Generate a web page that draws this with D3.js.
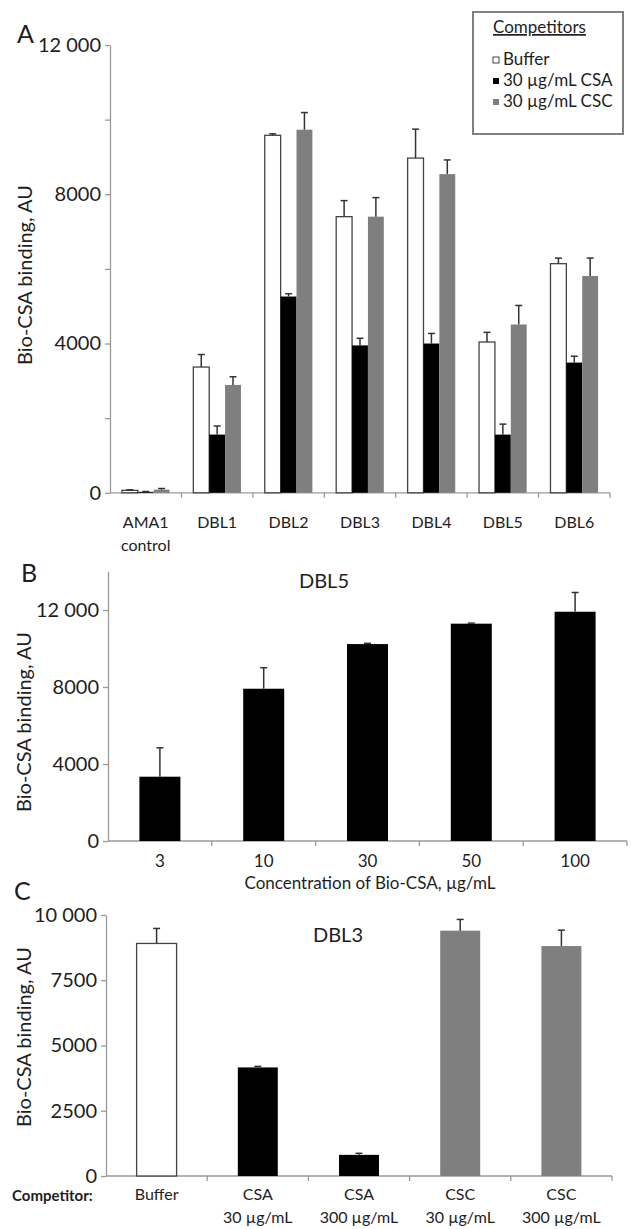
<!DOCTYPE html>
<html>
<head>
<meta charset="utf-8">
<script src="https://cdn.jsdelivr.net/npm/d3@7"></script>
<style>
  body { margin: 0; background: #fff; }
  svg text { font-family: Lato, "Open Sans", sans-serif; fill: #1e1e1e; }
  .axis path, .axis line { stroke: #9a9a9a; stroke-width: 1.3; }
  .axis text { fill: #1e1e1e; font-family: Lato, "Open Sans", sans-serif; }
</style>
</head>
<body>
<svg class="svg-canvas" width="631" height="1229"></svg>
<script>
// ---- Panel A: binding per DBL domain with competitors ----
var groupsA = [["AMA1", "control"], ["DBL1"], ["DBL2"], ["DBL3"], ["DBL4"], ["DBL5"], ["DBL6"]];
var competitors = ["Buffer", "30 \u00b5g/mL CSA", "30 \u00b5g/mL CSC"];
var bufferA = [65, 3370, 9580, 7400, 8970, 4040, 6140];
var bufferErrA = [15, 335, 40, 430, 775, 260, 150];
var csaA = [25, 1560, 5260, 3950, 4000, 1560, 3490];
var csaErrA = [10, 230, 75, 190, 270, 280, 170];
var cscA = [85, 2890, 9730, 7400, 8540, 4510, 5810];
var cscErrA = [30, 220, 460, 510, 380, 510, 480];
var ticksA = [0, 2000, 4000, 6000, 8000, 10000, 12000];
var labelledA = [0, 4000, 8000, 12000];

// ---- Panel B: DBL5 vs concentration ----
var concB = ["3", "10", "30", "50", "100"];
var valuesB = [3340, 7910, 10230, 11290, 11910];
var errB = [1500, 1090, 40, 30, 1000];
var ticksB = [0, 4000, 8000, 12000];

// ---- Panel C: DBL3 with competitor doses ----
var labelsC = [["Buffer"], ["CSA", "30 \u00b5g/mL"], ["CSA", "300 \u00b5g/mL"], ["CSC", "30 \u00b5g/mL"], ["CSC", "300 \u00b5g/mL"]];
var valuesC = [8910, 4160, 810, 9400, 8810];
var errC = [575, 40, 60, 430, 610];
var seriesC = [0, 1, 1, 2, 2];
var ticksC = [0, 2500, 5000, 7500, 10000];

(function(){

    var svg = d3.select('.svg-canvas');
    /**
     * Fill colours of the three competitor series
     */
    var fills = ['#ffffff', '#000000', '#7f7f7f'];

    /**
     * Tick label format: spaced thousands above 9999
     */
    var fmt = function(d){
        return d >= 10000 ? d3.format(',')(d).replace(',', ' ') : '' + d;
    };

    /**
     * Draws a bar with its upward error bar
     */
    var drawBar = function(g, x, w, y, v, e, series){
        g.append('rect')
            .attr('x', x).attr('width', w)
            .attr('y', y(v)).attr('height', y(0) - y(v))
            .attr('fill', fills[series])
            .attr('stroke', series == 0 ? '#444' : 'none')
            .attr('stroke-width', 1.3);
        var cx = x + w / 2;
        g.append('line')
            .attr('x1', cx).attr('x2', cx)
            .attr('y1', y(v)).attr('y2', y(v + e))
            .attr('stroke', '#333').attr('stroke-width', 1.5);
        g.append('line')
            .attr('x1', cx - 3.5).attr('x2', cx + 3.5)
            .attr('y1', y(v + e)).attr('y2', y(v + e))
            .attr('stroke', '#333').attr('stroke-width', 1.5);
    };

    /**
     * Left axis, bottom baseline with ticks at the category boundaries
     */
    var drawAxes = function(y, x0, x1, tickVals, labelled, n){
        svg.append('g').classed('axis', true)
            .attr('transform', 'translate(' + x0 + ',0)')
            .call(d3.axisLeft(y).tickValues(tickVals).tickSize(5).tickSizeOuter(0).tickPadding(4)
                .tickFormat(function(d){ return labelled.indexOf(d) >= 0 ? fmt(d) : ''; }))
            .selectAll('text').style('font-size', '20px');
        var base = svg.append('g').classed('axis', true);
        base.append('line')
            .attr('x1', x0).attr('x2', x1).attr('y1', y(0)).attr('y2', y(0));
        var step = (x1 - x0) / n;
        d3.range(1, n + 1).forEach(function(i){
            base.append('line')
                .attr('x1', x0 + i * step).attr('x2', x0 + i * step)
                .attr('y1', y(0)).attr('y2', y(0) + 5);
        });
    };

    /**
     * Rotated y axis title
     */
    var yTitle = function(cx, cy){
        svg.append('text')
            .attr('transform', 'translate(' + cx + ',' + cy + ') rotate(-90)')
            .attr('text-anchor', 'middle').attr('dy', '0.35em')
            .style('font-size', '20px')
            .text('Bio-CSA binding, AU');
    };

    var panelLetter = function(t, x, y){
        svg.append('text').attr('x', x).attr('y', y)
            .style('font-size', '25px').text(t);
    };

    // ===== Panel A =====
    var yA = d3.scaleLinear().domain([0, 12000]).range([492.8, 45]);
    var xA = d3.scaleBand().domain(d3.range(groupsA.length)).range([110, 610]);
    var xA1 = d3.scaleBand().domain([0, 1, 2]).range([0, xA.bandwidth()]).paddingOuter(0.75);
    drawAxes(yA, 110, 610, ticksA, labelledA, groupsA.length);
    var seriesA = [[bufferA, bufferErrA], [csaA, csaErrA], [cscA, cscErrA]];
    var barsA = svg.append('g');
    groupsA.forEach(function(grp, i){
        seriesA.forEach(function(s, j){
            drawBar(barsA, xA(i) + xA1(j), xA1.bandwidth(), yA, s[0][i], s[1][i], j);
        });
        grp.forEach(function(line, k){
            svg.append('text')
                .attr('x', xA(i) + xA.bandwidth() / 2).attr('y', 528 + k * 23)
                .attr('text-anchor', 'middle').style('font-size', '16px').text(line);
        });
    });
    yTitle(25, 275);
    panelLetter('A', 17, 43);

    // legend
    var leg = svg.append('g');
    leg.append('rect').attr('x', 473).attr('y', 12).attr('width', 150).attr('height', 122)
        .attr('fill', '#fff').attr('stroke', '#808080').attr('stroke-width', 2);
    leg.append('text').attr('x', 493).attr('y', 33)
        .style('font-size', '17px').style('text-decoration', 'underline').text('Competitors');
    competitors.forEach(function(c, i){
        var by = 65 + i * 21;
        leg.append('rect').attr('x', 493).attr('y', by - 8).attr('width', 6).attr('height', 6)
            .attr('fill', fills[i]).attr('stroke', i == 0 ? '#444' : 'none').attr('stroke-width', 1);
        leg.append('text').attr('x', 503).attr('y', by)
            .style('font-size', '17px').text(c);
    });

    // ===== Panel B =====
    var yB = d3.scaleLinear().domain([0, 14000]).range([841, 571.5]);
    var xB = d3.scaleBand().domain(concB).range([108, 627]).paddingInner(0.605).paddingOuter(0.3025);
    drawAxes(yB, 108, 627, ticksB, ticksB, concB.length);
    var barsB = svg.append('g');
    concB.forEach(function(c, i){
        drawBar(barsB, xB(c), xB.bandwidth(), yB, valuesB[i], errB[i], 1);
        svg.append('text')
            .attr('x', xB(c) + xB.bandwidth() / 2).attr('y', 867)
            .attr('text-anchor', 'middle').style('font-size', '17px').text(c);
    });
    svg.append('text').attr('x', 370).attr('y', 889).attr('text-anchor', 'middle')
        .style('font-size', '17px').text('Concentration of Bio-CSA, \u00b5g/mL');
    svg.append('text').attr('x', 324).attr('y', 588).attr('text-anchor', 'middle')
        .style('font-size', '20px').text('DBL5');
    yTitle(24, 722);
    panelLetter('B', 21, 582);

    // ===== Panel C =====
    var yC = d3.scaleLinear().domain([0, 10000]).range([1176, 915]);
    var xC = d3.scaleBand().domain(d3.range(labelsC.length)).range([106, 612]).paddingInner(0.605).paddingOuter(0.3025);
    drawAxes(yC, 106, 612, ticksC, ticksC, labelsC.length);
    var barsC = svg.append('g');
    labelsC.forEach(function(lab, i){
        drawBar(barsC, xC(i), xC.bandwidth(), yC, valuesC[i], errC[i], seriesC[i]);
        lab.forEach(function(line, k){
            svg.append('text')
                .attr('x', xC(i) + xC.bandwidth() / 2).attr('y', 1200 + k * 23)
                .attr('text-anchor', 'middle').style('font-size', '16px').text(line);
        });
    });
    svg.append('text').attr('x', 12).attr('y', 1201)
        .style('font-size', '15px').style('font-weight', 'bold').text('Competitor:');
    svg.append('text').attr('x', 338).attr('y', 942).attr('text-anchor', 'middle')
        .style('font-size', '20px').text('DBL3');
    yTitle(24, 1037);
    panelLetter('C', 14, 900);
})();
</script>
</body>
</html>
